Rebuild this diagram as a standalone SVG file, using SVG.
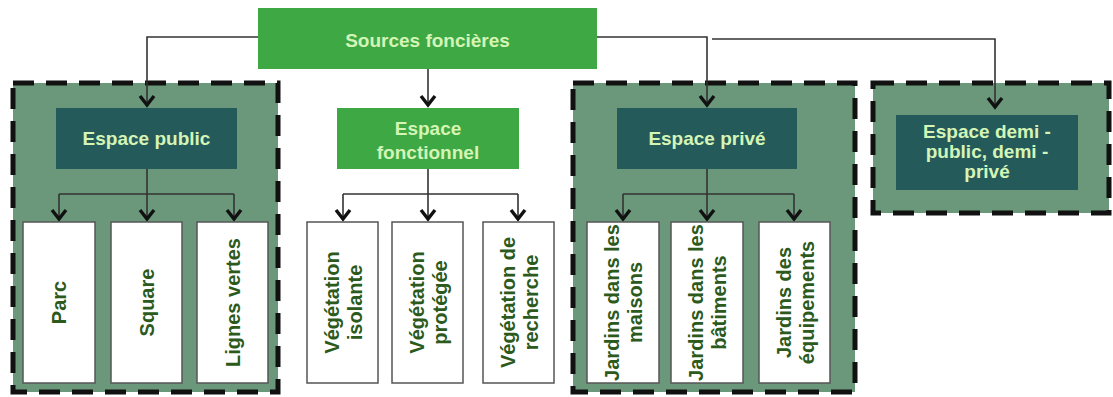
<svg xmlns="http://www.w3.org/2000/svg" width="1113" height="397" viewBox="0 0 1113 397">
<defs>
<marker id="arr" markerUnits="userSpaceOnUse" markerWidth="18" markerHeight="18" refX="12" refY="8" orient="auto" viewBox="0 0 18 16">
<path d="M2,1 L11,8 L2,15" fill="none" stroke="#111" stroke-width="3.4" stroke-linejoin="miter"/>
</marker>
<style>
.group{fill:#6b987a;stroke:#111;stroke-width:5;stroke-dasharray:21 12}
.green{fill:#3ea845}
.teal{fill:#255a5b}
.leaf{fill:#ffffff;stroke:#555;stroke-width:1.5}
.lt{font-family:"Liberation Sans",Arial,sans-serif;font-weight:bold;font-size:19px;fill:#d4f5b6;text-anchor:middle}
.vt{font-family:"Liberation Sans",Arial,sans-serif;font-weight:bold;font-size:20px;fill:#2b5a1c;text-anchor:middle}
.ln{fill:none;stroke:#333;stroke-width:1.6}
.la{fill:none;stroke:#333;stroke-width:1.6;marker-end:url(#arr)}
</style>
</defs>
<rect width="1113" height="397" fill="#ffffff"/>

<g id="group-public"><rect class="group" x="13" y="83" width="265" height="309"/></g>
<g id="group-prive"><rect class="group" x="573" y="83" width="282" height="309"/></g>
<g id="group-demi"><rect class="group" x="873" y="83" width="236" height="130"/></g>

<g id="connectors">
<path class="la" d="M258,37 H147 V106"/>
<path class="la" d="M428,68 V106"/>
<path class="la" d="M597,37 H707 V106"/>
<path class="la" d="M712,39 H995 V108"/>
<path class="ln" d="M147,169 V194 M59,194 H234"/>
<path class="la" d="M59,194 V220"/>
<path class="la" d="M147,194 V220"/>
<path class="la" d="M234,194 V220"/>
<path class="ln" d="M428,169 V194 M343,194 H518"/>
<path class="la" d="M343,194 V220"/>
<path class="la" d="M428,194 V220"/>
<path class="la" d="M518,194 V220"/>
<path class="ln" d="M707,169 V194 M623,194 H794"/>
<path class="la" d="M623,194 V220"/>
<path class="la" d="M707,194 V220"/>
<path class="la" d="M794,194 V220"/>
</g>

<g id="sources"><rect class="green" x="258" y="8" width="339" height="61"/><text class="lt" x="427.5" y="47">Sources foncières</text></g>
<g id="espace-public"><rect class="teal" x="56" y="108" width="181" height="61"/><text class="lt" x="146.5" y="145">Espace public</text></g>
<g id="espace-fonctionnel"><rect class="green" x="337" y="108" width="182" height="61"/><text class="lt" x="428" y="135">Espace</text><text class="lt" x="428" y="159">fonctionnel</text></g>
<g id="espace-prive"><rect class="teal" x="617" y="108" width="180" height="61"/><text class="lt" x="707" y="145">Espace privé</text></g>
<g id="espace-demi"><rect class="teal" x="896" y="115" width="182" height="75"/><text class="lt" x="987" y="138">Espace demi -</text><text class="lt" x="987" y="158">public, demi -</text><text class="lt" x="987" y="178">privé</text></g>

<g id="parc"><rect class="leaf" x="23" y="222" width="72" height="161"/><text class="vt" transform="translate(59,302.5) rotate(-90)" y="7">Parc</text></g>
<g id="square"><rect class="leaf" x="111" y="222" width="71" height="161"/><text class="vt" transform="translate(146.5,302.5) rotate(-90)" y="7">Square</text></g>
<g id="lignes-vertes"><rect class="leaf" x="197" y="222" width="71" height="161"/><text class="vt" transform="translate(232.5,302.5) rotate(-90)" y="7">Lignes vertes</text></g>

<g id="veg-isolante"><rect class="leaf" x="307" y="222" width="71" height="161"/><text class="vt" transform="translate(342.5,302.5) rotate(-90)"><tspan x="0" y="-4">Végétation</tspan><tspan x="0" y="19">isolante</tspan></text></g>
<g id="veg-protegee"><rect class="leaf" x="392" y="222" width="71" height="161"/><text class="vt" transform="translate(427.5,302.5) rotate(-90)"><tspan x="0" y="-4">Végétation</tspan><tspan x="0" y="19">protégée</tspan></text></g>
<g id="veg-recherche"><rect class="leaf" x="483" y="222" width="71" height="161"/><text class="vt" transform="translate(518.5,302.5) rotate(-90)"><tspan x="0" y="-4">Végétation de</tspan><tspan x="0" y="19">recherche</tspan></text></g>

<g id="jardins-maisons"><rect class="leaf" x="587" y="222" width="72" height="161"/><text class="vt" transform="translate(623,302.5) rotate(-90)"><tspan x="0" y="-4">Jardins dans les</tspan><tspan x="0" y="19">maisons</tspan></text></g>
<g id="jardins-batiments"><rect class="leaf" x="671" y="222" width="72" height="161"/><text class="vt" transform="translate(707,302.5) rotate(-90)"><tspan x="0" y="-4">Jardins dans les</tspan><tspan x="0" y="19">bâtiments</tspan></text></g>
<g id="jardins-equipements"><rect class="leaf" x="759" y="222" width="71" height="161"/><text class="vt" transform="translate(794.5,302.5) rotate(-90)"><tspan x="0" y="-4">Jardins des</tspan><tspan x="0" y="19">équipements</tspan></text></g>
</svg>
